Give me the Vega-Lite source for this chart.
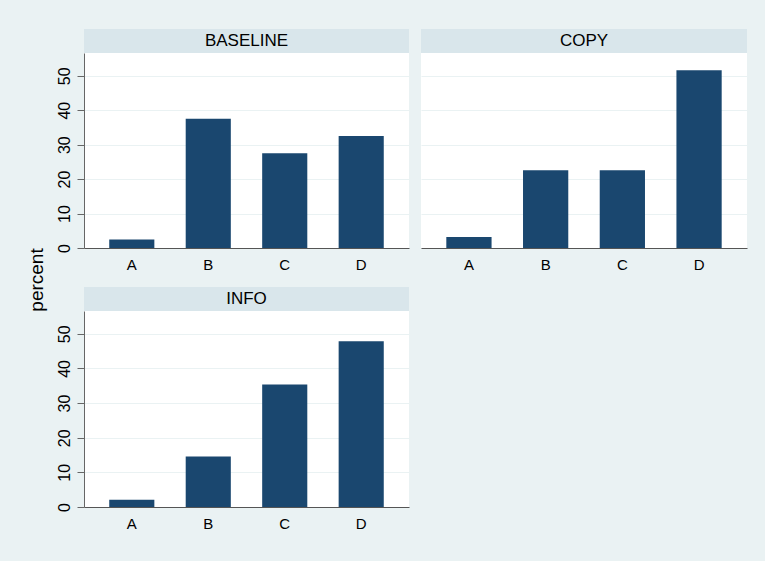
{
  "$schema": "https://vega.github.io/schema/vega-lite/v6.json",
  "background": "#EAF2F3",
  "padding": {"left": 27, "top": 29, "right": 18, "bottom": 30},
  "config": {
    "font": "Liberation Sans",
    "view": {"stroke": null},
    "axis": {"gridColor": "#EAF2F3", "gridWidth": 1.2, "labelColor": "black", "labelFont": "Liberation Sans"}
  },
  "title": {"text": "percent", "orient": "left", "anchor": "middle", "fontSize": 19, "fontWeight": "normal", "color": "black", "offset": 9},
  "datasets": {
    "bars": [
      {"panel": "BASELINE", "answer": "A", "percent": 2.5},
      {"panel": "BASELINE", "answer": "B", "percent": 37.5},
      {"panel": "BASELINE", "answer": "C", "percent": 27.5},
      {"panel": "BASELINE", "answer": "D", "percent": 32.5},
      {"panel": "COPY", "answer": "A", "percent": 3.2},
      {"panel": "COPY", "answer": "B", "percent": 22.6},
      {"panel": "COPY", "answer": "C", "percent": 22.6},
      {"panel": "COPY", "answer": "D", "percent": 51.6},
      {"panel": "INFO", "answer": "A", "percent": 2.1},
      {"panel": "INFO", "answer": "B", "percent": 14.6},
      {"panel": "INFO", "answer": "C", "percent": 35.4},
      {"panel": "INFO", "answer": "D", "percent": 47.9}
    ],
    "panels": [
      {"panel": "BASELINE"},
      {"panel": "COPY"},
      {"panel": "INFO"}
    ]
  },
  "spacing": 15,
  "vconcat": [
    {
      "spacing": 12,
      "hconcat": [
        {
          "spacing": 0,
          "vconcat": [
            {
              "data": {"name": "panels"},
              "transform": [{"filter": "datum.panel === 'BASELINE'"}],
              "width": 325, "height": 24,
              "view": {"fill": "#D9E6EB", "stroke": null},
              "mark": {"type": "text", "fontSize": 17, "color": "black", "baseline": "middle"},
              "encoding": {"text": {"field": "panel", "type": "nominal"}}
            },
            {
              "data": {"name": "bars"},
              "transform": [{"filter": "datum.panel === 'BASELINE'"}],
              "width": 325, "height": 195,
              "view": {"fill": "white", "stroke": null},
              "mark": {"type": "bar", "color": "#1A476F"},
              "encoding": {
                "x": {"field": "answer", "type": "nominal", "scale": {"paddingInner": 0.41, "paddingOuter": 0.33},
                  "axis": {"title": null, "labelAngle": 0, "ticks": false, "labelPadding": 9, "labelFontSize": 15, "domainColor": "#555"}},
                "y": {"field": "percent", "type": "quantitative", "scale": {"domain": [0, 56.6], "nice": false},
                  "axis": {"title": null, "values": [0, 10, 20, 30, 40, 50], "labelAngle": 270, "labelAlign": "center", "labelBaseline": "bottom", "tickSize": 7, "labelPadding": 5, "labelFontSize": 16, "domainColor": "#666", "tickColor": "#666"}}
              }
            }
          ]
        },
        {
          "spacing": 0,
          "vconcat": [
            {
              "data": {"name": "panels"},
              "transform": [{"filter": "datum.panel === 'COPY'"}],
              "width": 326, "height": 24,
              "view": {"fill": "#D9E6EB", "stroke": null},
              "mark": {"type": "text", "fontSize": 17, "color": "black", "baseline": "middle"},
              "encoding": {"text": {"field": "panel", "type": "nominal"}}
            },
            {
              "data": {"name": "bars"},
              "transform": [{"filter": "datum.panel === 'COPY'"}],
              "width": 326, "height": 195,
              "view": {"fill": "white", "stroke": null},
              "mark": {"type": "bar", "color": "#1A476F"},
              "encoding": {
                "x": {"field": "answer", "type": "nominal", "scale": {"paddingInner": 0.41, "paddingOuter": 0.33},
                  "axis": {"title": null, "labelAngle": 0, "ticks": false, "labelPadding": 9, "labelFontSize": 15, "domainColor": "#555"}},
                "y": {"field": "percent", "type": "quantitative", "scale": {"domain": [0, 56.6], "nice": false},
                  "axis": {"title": null, "values": [0, 10, 20, 30, 40, 50], "labels": false, "ticks": false, "domain": false}}
              }
            }
          ]
        }
      ]
    },
    {
      "hconcat": [
        {
          "spacing": 0,
          "vconcat": [
            {
              "data": {"name": "panels"},
              "transform": [{"filter": "datum.panel === 'INFO'"}],
              "width": 325, "height": 24,
              "view": {"fill": "#D9E6EB", "stroke": null},
              "mark": {"type": "text", "fontSize": 17, "color": "black", "baseline": "middle"},
              "encoding": {"text": {"field": "panel", "type": "nominal"}}
            },
            {
              "data": {"name": "bars"},
              "transform": [{"filter": "datum.panel === 'INFO'"}],
              "width": 325, "height": 196,
              "view": {"fill": "white", "stroke": null},
              "mark": {"type": "bar", "color": "#1A476F"},
              "encoding": {
                "x": {"field": "answer", "type": "nominal", "scale": {"paddingInner": 0.41, "paddingOuter": 0.33},
                  "axis": {"title": null, "labelAngle": 0, "ticks": false, "labelPadding": 9, "labelFontSize": 15, "domainColor": "#555"}},
                "y": {"field": "percent", "type": "quantitative", "scale": {"domain": [0, 56.6], "nice": false},
                  "axis": {"title": null, "values": [0, 10, 20, 30, 40, 50], "labelAngle": 270, "labelAlign": "center", "labelBaseline": "bottom", "tickSize": 7, "labelPadding": 5, "labelFontSize": 16, "domainColor": "#666", "tickColor": "#666"}}
              }
            }
          ]
        }
      ]
    }
  ]
}
